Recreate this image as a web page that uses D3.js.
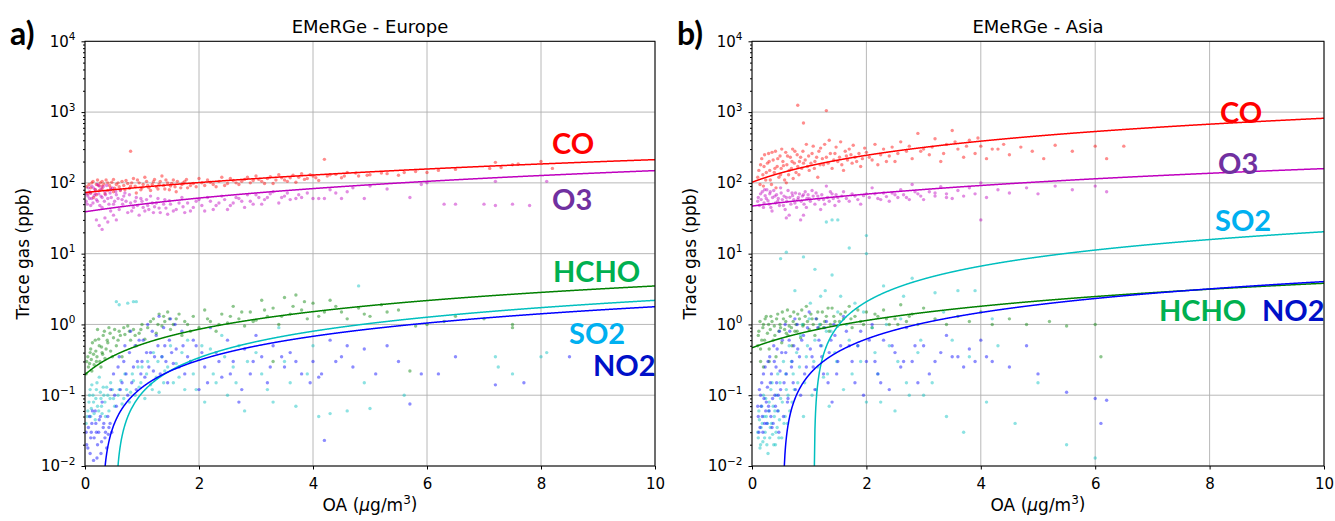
<!DOCTYPE html>
<html>
<head>
<meta charset="utf-8">
<script src="https://cdn.jsdelivr.net/npm/d3@7"></script>
<style>
  body { margin: 0; background: #fff; }
  svg text { font-family: "DejaVu Sans", sans-serif; }
</style>
</head>
<body>
<svg id="chart" width="1335" height="521"></svg>
<script>
// ---- tick labels -------------------------------------------------------
const OA_TICKS  = [0, 2, 4, 6, 8, 10];
const GAS_TICKS = [1e-2, 1e-1, 1, 1e1, 1e2, 1e3, 1e4];
const GAS_EXP   = ["\u22122", "\u22121", "0", "1", "2", "3", "4"];

const SPECIES = ["CO", "O3", "HCHO", "SO2", "NO2"];

// ---- linear fits (intercept, slope), ppb vs OA -------------------------
const fitEurope = [[73, 14], [39, 11], [0.195, 0.33], [-0.124, 0.2314], [-0.0548, 0.1835]];
const fitAsia   = [[102, 71.6], [47, 11.2], [0.467, 0.335], [-2.485, 2.288], [-0.2307, 0.426]];

// ---- scatter, EMeRGe Europe [OA, gas] ----------------------------------
const euCO = [[0.05,70],[0.1,85],[0.12,100],[0.15,62],[0.2,95],[0.22,110],[0.25,78],[0.3,90],[0.3,105],[0.35,70],[0.4,100],[0.45,85],[0.5,112],[0.5,75],[0.55,95],[0.6,88],[0.65,105],[0.7,80],[0.75,98],[0.8,280],[0.8,90],[0.85,115],[0.9,72],[0.95,100],[1.0,85],[1.05,120],[1.1,92],[1.15,78],[1.2,104],[1.25,88],[1.3,96],[1.35,125],[1.4,82],[1.45,100],[1.5,90],[1.55,110],[1.6,75],[1.7,95],[1.75,105],[1.8,85],[1.9,98],[2.0,115],[2.1,92],[2.2,102],[2.3,88],[2.4,120],[2.5,98],[2.6,108],[2.7,95],[2.8,112],[2.9,100],[3.0,125],[3.1,105],[3.2,115],[3.3,98],[3.4,130],[3.5,110],[3.6,118],[3.7,102],[3.8,135],[3.9,115],[4.0,125],[4.1,108],[4.2,215],[4.3,130],[4.5,118],[4.6,140],[4.8,125],[5.0,130],[5.2,138],[5.5,128],[5.8,145],[6.0,140],[6.2,150],[6.5,155],[7.1,160],[7.2,195],[7.3,165],[7.5,180],[7.6,185],[8.0,200],[8.2,160],
  [0.03,88],[0.07,95],[0.1,72],[0.14,105],[0.18,80],[0.2,68],[0.24,92],[0.27,100],[0.3,82],[0.33,96],[0.37,110],[0.4,78],[0.43,92],[0.47,102],[0.52,84],[0.58,100],[0.62,78],[0.68,92],[0.72,108],[0.78,84],[0.82,100],[0.88,90],[0.92,110],[0.98,80],[1.02,95],[1.08,105],[1.12,85],[1.18,95],[1.22,112],[1.28,82],[1.32,105],[1.38,92],[1.42,110],[1.48,80],[1.52,98],[1.58,88],[1.62,105],[1.68,85],[1.72,100],[1.78,112],[1.85,92],[1.95,88],[2.05,100],[2.15,110],[2.25,95],[2.35,105],[2.45,92],[2.55,115],[2.65,100],[2.75,105],[2.85,120],[2.95,108],[3.05,112],[3.15,98],[3.25,122],[3.35,110],[3.45,118],[3.55,105],[3.65,128],[3.75,120],[3.85,112],[3.95,130],[4.05,118],[4.25,125],[4.4,132],[4.55,125],[4.75,138],[4.95,128],[5.3,135],[5.6,140]];
const euO3 = [[0.02,55],[0.05,65],[0.08,75],[0.1,48],[0.12,60],[0.15,85],[0.18,70],[0.2,30],[0.22,55],[0.25,90],[0.28,65],[0.3,22],[0.3,45],[0.35,75],[0.4,60],[0.4,28],[0.45,80],[0.5,50],[0.5,35],[0.55,68],[0.6,42],[0.65,58],[0.7,72],[0.75,38],[0.8,52],[0.85,45],[0.9,62],[0.95,35],[1.0,55],[1.05,40],[1.1,48],[1.15,65],[1.2,38],[1.25,52],[1.3,44],[1.4,58],[1.45,36],[1.5,50],[1.6,42],[1.7,62],[1.75,38],[1.8,52],[1.9,45],[2.0,58],[2.1,40],[2.2,55],[2.3,48],[2.4,65],[2.5,42],[2.6,52],[2.7,60],[2.8,45],[2.9,55],[3.0,68],[3.1,50],[3.2,62],[3.3,75],[3.4,52],[3.5,65],[3.6,58],[3.8,62],[3.9,72],[4.0,60],[4.1,60],[4.3,80],[4.5,60],[4.7,85],[4.9,60],[5.0,90],[5.3,82],[5.7,62],[5.9,95],[6.0,100],[6.3,50],[6.5,50],[7.0,50],[7.2,48],[7.5,50],[7.8,48],[7.2,105],[8.1,105],
  [0.02,70],[0.04,50],[0.06,85],[0.08,60],[0.1,72],[0.12,90],[0.14,52],[0.16,66],[0.18,80],[0.2,58],[0.22,95],[0.24,70],[0.26,48],[0.28,82],[0.3,62],[0.32,88],[0.34,55],[0.36,68],[0.38,92],[0.42,50],[0.44,72],[0.46,62],[0.48,85],[0.52,55],[0.54,75],[0.58,60],[0.62,80],[0.66,50],[0.68,65],[0.72,55],[0.78,68],[0.82,40],[0.88,55],[0.92,48],[0.98,60],[1.02,45],[1.08,58],[1.12,42],[1.18,52],[1.22,46],[1.28,60],[1.32,38],[1.38,50],[1.42,44],[1.48,56],[1.55,40],[1.65,52],[1.72,46],[1.85,40],[1.95,55],[2.05,48],[2.15,62],[2.25,42],[2.35,52],[2.45,58],[2.55,48],[2.65,62],[2.75,55],[2.85,68],[2.95,50],[3.05,62],[3.15,58],[3.25,70],[3.45,62],[3.55,72],[3.7,60],[3.75,68],[4.2,60],[4.4,72],[4.6,75],[0.25,25],[0.35,32],[0.55,30],[0.45,40]];
const euHCHO = [[0.02,0.2],[0.05,0.35],[0.08,0.28],[0.1,0.45],[0.12,0.22],[0.15,0.38],[0.18,0.6],[0.2,0.3],[0.22,0.85],[0.25,0.5],[0.28,0.25],[0.3,0.4],[0.32,0.7],[0.35,0.33],[0.4,0.55],[0.42,0.9],[0.45,0.42],[0.5,0.65],[0.55,0.5],[0.6,0.8],[0.65,0.35],[0.7,0.72],[0.75,0.95],[0.8,0.6],[0.85,0.85],[0.9,0.5],[0.95,0.75],[1.0,1.0],[1.05,0.62],[1.1,0.9],[1.2,1.2],[1.25,0.75],[1.3,1.4],[1.35,0.95],[1.4,1.1],[1.45,1.5],[1.5,0.85],[1.6,1.2],[1.7,0.7],[1.8,1.0],[1.9,1.3],[2.0,0.9],[2.1,1.6],[2.2,1.1],[2.3,0.8],[2.4,1.4],[2.5,1.05],[2.6,1.8],[2.7,1.2],[2.8,0.95],[2.9,1.5],[3.0,1.15],[3.1,2.2],[3.2,1.3],[3.3,1.7],[3.4,1.0],[3.5,2.4],[3.6,1.4],[3.7,2.6],[3.8,1.6],[3.9,1.2],[4.0,2.0],[4.2,1.5],[4.4,1.8],[4.6,1.2],[4.8,1.7],[5.0,1.3],[5.2,1.9],[5.5,1.6],[5.8,0.95],[6.0,1.0],[6.3,1.1],[7.0,1.2],[7.5,0.9],[3.3,0.3],[5.7,0.22],
  [0.03,0.3],[0.06,0.25],[0.09,0.4],[0.11,0.32],[0.13,0.55],[0.16,0.27],[0.19,0.42],[0.21,0.35],[0.24,0.62],[0.26,0.3],[0.29,0.48],[0.31,0.38],[0.34,0.8],[0.37,0.45],[0.39,0.6],[0.44,0.75],[0.48,0.35],[0.52,0.85],[0.58,0.6],[0.62,0.7],[0.68,0.9],[0.78,0.8],[0.88,0.7],[0.98,0.85],[1.15,1.1],[1.28,1.0],[1.38,1.3],[1.48,1.2],[1.55,1.0],[1.65,1.4],[1.75,1.1],[1.85,0.8],[2.15,1.2],[2.35,1.0],[2.55,1.3],[2.75,1.5],[2.95,1.1],[3.15,1.6],[3.45,1.3],[3.65,1.8],[3.85,2.1],[4.1,1.3],[4.3,2.2],[4.5,1.5],[4.9,1.4],[5.3,1.5],[6.5,1.3],[7.5,1.0]];
const euSO2 = [[0.02,0.04],[0.05,0.06],[0.08,0.1],[0.1,0.05],[0.12,0.14],[0.15,0.08],[0.18,0.045],[0.2,0.12],[0.22,0.07],[0.25,0.18],[0.28,0.09],[0.3,0.055],[0.32,0.13],[0.35,0.08],[0.4,0.1],[0.42,0.06],[0.45,0.15],[0.5,0.09],[0.55,2.1],[0.6,0.12],[0.65,0.075],[0.7,0.2],[0.75,2.0],[0.8,0.11],[0.85,0.16],[0.9,2.1],[0.95,0.13],[1.0,0.25],[1.05,0.09],[1.1,0.3],[1.15,0.14],[1.2,0.4],[1.25,0.18],[1.3,0.11],[1.35,0.35],[1.4,0.22],[1.5,0.5],[1.55,0.15],[1.6,0.28],[1.7,0.4],[1.75,0.12],[1.8,0.6],[1.9,0.2],[2.0,0.32],[2.1,0.08],[2.2,0.45],[2.3,0.15],[2.4,0.7],[2.5,0.1],[2.6,0.25],[2.7,0.5],[2.8,0.06],[3.0,0.4],[3.2,0.12],[3.4,0.9],[3.5,0.3],[3.7,0.07],[3.9,0.2],[4.0,0.5],[4.1,0.05],[4.3,0.055],[4.6,0.06],[4.8,3.5],[4.9,0.15],[5.0,0.065],[5.6,0.1],[7.2,0.35],[7.25,0.25],[7.5,0.2],[8.0,0.35],[8.1,0.4],
  [0.04,0.05],[0.07,0.08],[0.09,0.12],[0.11,0.065],[0.14,0.1],[0.16,0.055],[0.19,0.09],[0.21,0.15],[0.24,0.06],[0.27,0.11],[0.29,0.07],[0.33,0.1],[0.36,0.05],[0.38,0.13],[0.44,0.09],[0.48,0.12],[0.52,0.07],[0.58,0.1],[0.63,0.16],[0.68,0.09],[0.73,0.12],[0.78,0.08],[0.83,0.2],[0.88,0.1],[0.93,0.25],[0.98,0.15],[1.08,0.2],[1.18,0.12],[1.28,0.3],[1.38,0.15],[1.45,0.25],[1.65,0.18],[1.85,0.3],[1.95,0.12],[2.05,0.5],[2.25,0.2],[2.45,0.35],[2.65,0.15],[2.85,0.3],[3.1,0.2],[3.3,0.08],[3.6,0.15],[0.85,2.1],[0.6,1.9]];
const euNO2 = [[0.02,0.03],[0.05,0.018],[0.08,0.05],[0.1,0.025],[0.12,0.04],[0.15,0.012],[0.18,0.06],[0.2,0.03],[0.22,0.02],[0.25,0.045],[0.28,0.015],[0.3,0.08],[0.32,0.035],[0.35,0.025],[0.4,0.05],[0.42,0.035],[0.45,0.12],[0.5,0.2],[0.55,0.07],[0.6,0.35],[0.65,0.15],[0.7,0.5],[0.75,0.1],[0.8,0.8],[0.85,0.25],[0.9,0.12],[0.95,0.6],[1.0,0.3],[1.05,0.18],[1.1,1.0],[1.15,0.4],[1.2,0.22],[1.25,0.7],[1.3,1.3],[1.35,0.35],[1.4,0.5],[1.45,0.15],[1.5,1.2],[1.55,0.28],[1.6,0.45],[1.7,0.8],[1.75,0.2],[1.8,0.35],[1.9,0.6],[2.0,0.12],[2.1,0.25],[2.2,0.9],[2.3,0.4],[2.4,0.18],[2.5,0.6],[2.6,0.3],[2.7,0.08],[2.8,0.45],[2.9,0.2],[3.0,0.7],[3.1,0.35],[3.2,0.15],[3.3,0.5],[3.5,0.25],[3.6,0.4],[3.8,0.2],[4.0,0.3],[4.1,0.18],[4.2,0.023],[4.3,0.6],[4.5,0.35],[4.7,0.25],[4.9,0.45],[5.1,0.2],[5.3,0.5],[5.5,0.3],[5.7,0.075],[5.9,0.2],[6.2,0.2],[6.5,0.35],[7.2,0.14],[7.7,0.15],[8.5,0.35],
  [0.03,0.02],[0.06,0.035],[0.09,0.015],[0.11,0.03],[0.13,0.06],[0.16,0.025],[0.19,0.04],[0.21,0.013],[0.24,0.03],[0.27,0.05],[0.29,0.022],[0.33,0.04],[0.36,0.03],[0.38,0.018],[0.41,0.028],[0.44,0.04],[0.47,0.03],[0.52,0.1],[0.58,0.25],[0.62,0.12],[0.68,0.3],[0.72,0.2],[0.78,0.4],[0.82,0.15],[0.88,0.5],[0.92,0.3],[0.98,0.2],[1.02,0.6],[1.08,0.4],[1.12,0.25],[1.18,0.8],[1.22,0.35],[1.28,0.5],[1.32,0.2],[1.38,0.9],[1.42,0.3],[1.48,0.6],[1.52,0.4],[1.58,1.0],[1.65,0.25],[1.72,0.5],[1.85,0.3],[1.95,0.5],[2.05,0.4],[2.15,0.15],[2.35,0.3],[2.55,0.2],[2.75,0.12],[2.95,0.3],[3.25,0.25],[3.45,0.35],[3.7,0.3],[3.95,0.15],[4.15,0.2],[4.4,0.3],[4.6,0.5]];

// ---- scatter, EMeRGe Asia [OA, gas] ------------------------------------
const asCO = [[0.1,120],[0.15,180],[0.2,90],[0.22,250],[0.25,140],[0.3,200],[0.32,110],[0.35,270],[0.4,160],[0.42,85],[0.45,220],[0.5,130],[0.52,300],[0.55,175],[0.6,100],[0.62,240],[0.65,150],[0.7,200],[0.72,115],[0.75,280],[0.8,170],[0.8,1250],[0.82,130],[0.85,230],[0.9,700],[0.9,190],[0.95,350],[1.0,150],[1.05,260],[1.1,200],[1.15,120],[1.2,310],[1.25,180],[1.3,1050],[1.3,230],[1.35,400],[1.4,160],[1.45,260],[1.5,200],[1.55,380],[1.6,150],[1.65,240],[1.7,300],[1.75,190],[1.8,230],[1.9,170],[2.0,270],[2.1,210],[2.15,350],[2.2,180],[2.3,300],[2.4,240],[2.5,200],[2.6,380],[2.7,280],[2.8,220],[2.9,500],[3.0,300],[3.1,250],[3.2,420],[3.3,200],[3.4,350],[3.5,550],[3.6,300],[3.7,230],[3.8,400],[3.9,260],[4.0,330],[4.1,220],[4.3,300],[4.5,250],[4.7,320],[4.9,280],[5.1,220],[5.3,340],[5.6,280],[6.0,330],[6.2,220],[6.5,330],
  [0.12,150],[0.14,95],[0.17,220],[0.19,130],[0.21,170],[0.24,110],[0.27,190],[0.29,260],[0.31,150],[0.34,95],[0.37,210],[0.39,140],[0.41,280],[0.44,170],[0.47,120],[0.49,240],[0.51,160],[0.54,200],[0.57,110],[0.59,270],[0.61,180],[0.64,130],[0.67,230],[0.69,160],[0.71,300],[0.74,190],[0.77,140],[0.79,250],[0.83,200],[0.87,160],[0.89,280],[0.93,210],[0.97,170],[0.99,240],[1.03,190],[1.07,330],[1.09,160],[1.13,230],[1.17,280],[1.19,180],[1.23,220],[1.27,350],[1.33,190],[1.37,260],[1.43,210],[1.47,320],[1.53,230],[1.57,180],[1.63,280],[1.67,210],[1.73,250],[1.77,340],[1.83,200],[1.87,260],[1.93,220],[1.97,310],[2.05,230],[2.25,250],[2.35,200],[2.45,320],[2.55,260],[2.75,330],[2.95,280],[3.15,320],[3.35,260],[3.55,380],[3.75,330],[3.95,430],[4.2,300],[4.4,350]];
const asO3 = [[0.1,55],[0.15,70],[0.2,45],[0.22,80],[0.25,60],[0.3,50],[0.32,75],[0.35,40],[0.4,65],[0.45,55],[0.5,85],[0.55,48],[0.6,62],[0.65,35],[0.7,72],[0.75,52],[0.8,58],[0.85,30],[0.9,68],[0.95,45],[1.0,60],[1.05,78],[1.1,50],[1.15,65],[1.2,42],[1.25,58],[1.3,90],[1.35,55],[1.4,70],[1.45,48],[1.5,62],[1.6,75],[1.7,55],[1.8,65],[1.9,50],[2.0,70],[2.1,85],[2.2,60],[2.3,72],[2.4,55],[2.5,68],[2.6,80],[2.7,62],[2.8,95],[2.9,70],[3.0,58],[3.1,75],[3.2,65],[3.3,88],[3.4,70],[3.5,60],[3.6,78],[3.7,65],[3.8,85],[3.9,70],[4.0,100],[4.0,30],[4.1,62],[4.3,80],[4.5,72],[4.8,85],[5.0,70],[5.3,90],[5.6,80],[6.0,90],[6.2,75],
  [0.11,62],[0.13,48],[0.16,58],[0.18,75],[0.21,52],[0.23,66],[0.26,80],[0.28,56],[0.31,70],[0.33,45],[0.36,62],[0.38,78],[0.41,52],[0.43,68],[0.46,60],[0.48,48],[0.51,72],[0.53,58],[0.56,65],[0.58,42],[0.61,55],[0.63,78],[0.66,62],[0.68,50],[0.71,66],[0.73,58],[0.76,72],[0.78,45],[0.81,62],[0.83,70],[0.86,55],[0.88,65],[0.91,50],[0.93,75],[0.96,60],[0.98,68],[1.02,55],[1.07,65],[1.12,72],[1.17,58],[1.22,68],[1.27,50],[1.32,62],[1.37,75],[1.42,60],[1.47,68],[1.52,55],[1.57,65],[1.65,60],[1.75,70],[1.85,58],[1.95,66],[2.05,62],[2.15,70],[2.25,58],[2.35,64],[2.45,72],[2.55,62],[2.65,68],[2.75,58],[2.85,75],[2.95,65],[3.2,72],[3.4,62],[0.6,32],[0.9,35]];
const asHCHO = [[0.1,0.5],[0.12,0.8],[0.15,0.3],[0.2,1.0],[0.22,0.6],[0.25,1.3],[0.3,0.45],[0.32,0.85],[0.35,1.1],[0.4,0.7],[0.42,0.35],[0.45,1.4],[0.5,0.9],[0.52,0.55],[0.55,1.2],[0.6,0.75],[0.62,1.6],[0.65,0.95],[0.7,0.5],[0.72,1.1],[0.75,0.8],[0.8,1.4],[0.85,0.65],[0.9,1.0],[0.95,1.8],[1.0,0.85],[1.05,1.2],[1.1,0.7],[1.15,1.5],[1.2,1.0],[1.25,0.9],[1.3,1.3],[1.35,0.8],[1.4,1.7],[1.45,1.1],[1.5,0.95],[1.55,1.4],[1.6,1.2],[1.7,1.8],[1.75,0.9],[1.8,1.3],[1.9,1.1],[2.0,1.5],[2.1,0.9],[2.2,1.3],[2.3,1.6],[2.4,1.0],[2.5,1.2],[2.6,1.9],[2.7,1.1],[2.8,1.4],[2.9,1.0],[3.0,1.7],[3.2,1.2],[3.4,1.0],[3.6,1.3],[3.8,1.1],[4.0,1.5],[4.2,1.0],[4.5,1.2],[4.8,1.0],[5.2,1.1],[5.5,0.95],[6.0,1.0],[6.1,0.35],
  [0.11,0.7],[0.14,1.1],[0.17,0.6],[0.19,0.9],[0.23,1.2],[0.27,0.75],[0.29,1.0],[0.33,1.3],[0.37,0.6],[0.39,0.95],[0.43,1.2],[0.47,0.8],[0.49,1.0],[0.53,1.5],[0.57,0.85],[0.59,1.1],[0.63,0.7],[0.67,1.3],[0.69,0.9],[0.73,1.5],[0.77,1.0],[0.79,0.8],[0.83,1.2],[0.87,1.6],[0.89,0.95],[0.93,1.3],[0.97,1.1],[1.03,1.4],[1.07,1.0],[1.13,1.2],[1.17,0.9],[1.23,1.5],[1.27,1.1],[1.33,1.7],[1.37,1.0],[1.43,1.3],[1.53,1.1],[1.63,1.5],[1.73,1.2],[1.85,1.6],[1.95,1.0],[2.15,1.4],[2.35,1.2],[2.55,1.0],[2.75,1.3],[0.2,0.25],[0.3,0.3],[0.15,0.45]];
const asSO2 = [[0.1,0.03],[0.12,0.06],[0.15,0.02],[0.18,0.04],[0.2,0.1],[0.22,0.025],[0.25,0.05],[0.28,0.015],[0.3,0.08],[0.32,0.035],[0.35,0.15],[0.38,0.02],[0.4,0.06],[0.42,0.03],[0.45,0.2],[0.48,0.045],[0.5,0.09],[0.5,8.5],[0.52,0.025],[0.55,0.3],[0.58,0.05],[0.6,0.12],[0.6,10.5],[0.62,0.04],[0.65,0.5],[0.7,0.08],[0.72,0.2],[0.75,3.0],[0.8,0.15],[0.85,0.7],[0.9,0.05],[0.9,9],[0.95,0.35],[1.0,1.2],[1.05,0.1],[1.1,0.6],[1.1,6],[1.15,0.25],[1.2,2.5],[1.25,0.18],[1.3,0.8],[1.3,28],[1.35,0.07],[1.4,5.0],[1.4,30],[1.45,0.4],[1.5,1.5],[1.5,30],[1.6,0.12],[1.7,0.6],[1.7,12],[1.8,2.0],[1.9,0.3],[2.0,0.08],[2.0,10],[2.0,18],[2.1,0.9],[2.2,0.2],[2.3,3.5],[2.4,0.5],[2.5,0.06],[2.6,1.2],[2.7,0.15],[2.8,4.5],[2.9,0.4],[3.0,0.1],[3.2,2.8],[3.4,0.05],[3.5,0.6],[3.7,0.03],[3.9,3.0],[4.1,0.08],[4.3,0.5],[4.6,0.04],[5.0,0.15],[5.5,0.02],[6.0,0.013],
  [0.11,0.025],[0.13,0.045],[0.14,0.018],[0.16,0.035],[0.17,0.07],[0.19,0.022],[0.21,0.05],[0.23,0.03],[0.24,0.09],[0.26,0.02],[0.27,0.04],[0.29,0.06],[0.31,0.025],[0.33,0.12],[0.34,0.04],[0.36,0.028],[0.37,0.07],[0.39,0.05],[0.41,0.02],[0.43,0.1],[0.44,0.035],[0.46,0.06],[0.47,0.025],[0.49,0.15],[0.53,0.08],[0.56,0.04],[0.59,0.2],[0.63,0.1],[0.66,0.06],[0.69,0.3],[0.74,0.12],[0.78,0.4],[0.83,0.25],[0.88,1.0],[0.92,0.15],[0.97,0.5],[1.02,2.0],[1.08,0.3],[1.12,0.12],[1.18,1.0],[1.22,0.5],[1.28,3.0],[1.32,0.2],[1.38,0.8],[1.48,0.3],[1.55,2.5],[1.65,1.0],[1.75,0.2],[1.85,0.5],[1.95,1.5],[2.15,0.4],[2.25,0.08],[2.35,1.0],[2.55,0.3],[2.65,2.5],[2.75,0.1],[2.95,0.6],[3.15,0.15],[3.35,1.5],[3.6,3.0],[3.8,0.35],[4.2,1.2]];
const asNO2 = [[0.1,0.07],[0.12,0.03],[0.15,0.1],[0.18,0.05],[0.2,0.2],[0.22,0.04],[0.25,0.08],[0.28,0.3],[0.3,0.06],[0.32,0.15],[0.35,0.035],[0.38,0.5],[0.4,0.1],[0.42,0.25],[0.45,0.06],[0.48,0.8],[0.5,0.12],[0.52,0.4],[0.55,0.05],[0.58,1.0],[0.6,0.2],[0.62,0.08],[0.65,0.6],[0.7,0.3],[0.72,0.15],[0.75,1.2],[0.8,0.45],[0.85,0.1],[0.9,0.7],[0.95,0.25],[1.0,1.5],[1.05,0.35],[1.1,0.12],[1.15,0.9],[1.2,0.5],[1.25,0.2],[1.3,1.1],[1.35,0.4],[1.4,0.08],[1.45,0.7],[1.5,0.3],[1.6,1.3],[1.7,0.5],[1.8,0.15],[1.9,0.8],[2.0,0.3],[2.1,1.0],[2.2,0.2],[2.3,0.6],[2.4,0.12],[2.5,0.4],[2.6,0.25],[2.7,0.9],[2.8,0.3],[2.9,0.15],[3.0,0.5],[3.2,0.3],[3.4,0.7],[3.5,0.35],[3.7,0.25],[3.9,0.3],[4.0,0.6],[4.2,0.3],[4.5,0.25],[4.8,0.5],[5.0,0.2],[5.5,0.11],[6.0,0.09],[6.1,0.04],[6.2,0.085],
  [0.11,0.05],[0.13,0.12],[0.14,0.035],[0.16,0.07],[0.17,0.15],[0.19,0.03],[0.21,0.09],[0.23,0.25],[0.24,0.06],[0.26,0.04],[0.27,0.13],[0.29,0.07],[0.31,0.35],[0.33,0.05],[0.34,0.2],[0.36,0.09],[0.37,0.04],[0.39,0.3],[0.41,0.07],[0.43,0.15],[0.44,0.45],[0.46,0.1],[0.47,0.03],[0.49,0.22],[0.53,0.6],[0.56,0.15],[0.59,0.4],[0.63,0.09],[0.66,0.8],[0.69,0.25],[0.73,0.5],[0.76,0.12],[0.79,1.0],[0.83,0.35],[0.87,0.6],[0.92,0.2],[0.97,0.9],[1.02,0.45],[1.07,0.25],[1.12,1.2],[1.17,0.6],[1.22,0.35],[1.27,0.9],[1.33,0.15],[1.38,0.6],[1.43,1.0],[1.48,0.2],[1.55,0.5],[1.65,0.8],[1.75,0.3],[1.85,0.5],[1.95,0.1],[2.05,0.6],[2.15,0.3],[2.25,0.15],[2.45,0.5],[2.65,0.3],[2.85,0.5],[3.1,0.2],[3.3,0.4],[3.6,0.35],[3.8,0.45],[4.1,0.35]];

// ---- styling ----------------------------------------------------------
const DOT_COLOR  = { CO: "#ff0000", O3: "#bf00bf", HCHO: "#008000", SO2: "#00bfbf", NO2: "#0000ff" };
const TEXT_COLOR = { CO: "#ff0000", O3: "#7030a0", HCHO: "#00b050", SO2: "#00b0f0", NO2: "#0010c8" };

const TOP = 41.3, BOTTOM = 466;

const panels = [
  {
    tag: "a)", title: "EMeRGe - Europe", left: 85, right: 655, yLabelX: 29,
    points: [euCO, euO3, euHCHO, euSO2, euNO2], fits: fitEurope,
    labels: { CO: [552, 154], O3: [552, 210], HCHO: [553, 282], SO2: [569, 344], NO2: [593, 376] },
  },
  {
    tag: "b)", title: "EMeRGe - Asia", left: 752, right: 1324, yLabelX: 696,
    points: [asCO, asO3, asHCHO, asSO2, asNO2], fits: fitAsia,
    labels: { CO: [1220, 123], O3: [1218, 174], SO2: [1215, 231], HCHO: [1159, 321], NO2: [1262, 321] },
  },
];

const svg = d3.select("#chart");
svg.append("rect").attr("width", 1335).attr("height", 521).attr("fill", "#fff");

function drawPanel(p, idx) {
  const x = d3.scaleLinear().domain([0, 10]).range([p.left, p.right]);
  const y = d3.scaleLog().domain([1e-2, 1e4]).range([BOTTOM, TOP]);
  const g = svg.append("g");

  // grid
  g.selectAll(".vg").data(OA_TICKS).join("line")
    .attr("x1", d => x(d)).attr("x2", d => x(d))
    .attr("y1", TOP).attr("y2", BOTTOM)
    .attr("stroke", "#b0b0b0").attr("stroke-width", 0.9);
  g.selectAll(".hg").data(GAS_TICKS).join("line")
    .attr("x1", p.left).attr("x2", p.right)
    .attr("y1", d => y(d)).attr("y2", d => y(d))
    .attr("stroke", "#b0b0b0").attr("stroke-width", 0.9);

  const clipId = "clip" + idx;
  g.append("clipPath").attr("id", clipId).append("rect")
    .attr("x", p.left).attr("y", TOP)
    .attr("width", p.right - p.left).attr("height", BOTTOM - TOP);
  const plot = g.append("g").attr("clip-path", `url(#${clipId})`);

  // scatter
  SPECIES.forEach((sp, i) => {
    plot.append("g").selectAll("circle").data(p.points[i]).join("circle")
      .attr("cx", d => x(d[0])).attr("cy", d => y(d[1]))
      .attr("r", 1.7)
      .attr("fill", DOT_COLOR[sp]).attr("fill-opacity", 0.45);
  });

  // fit lines: gas = a + b*OA, drawn from where it enters the axis range
  const line = d3.line().x(d => x(d[0])).y(d => y(d[1]));
  SPECIES.forEach((sp, i) => {
    const [a, b] = p.fits[i];
    const x0 = Math.max(0, (1e-2 - a) / b);
    const xs = [x0].concat(d3.range(Math.ceil(x0 * 200) / 200 + 0.005, 10.0001, 0.005));
    const pts = xs.map(v => [v, Math.max(a + b * v, 1e-2)]);
    plot.append("path").datum(pts)
      .attr("d", line).attr("fill", "none")
      .attr("stroke", DOT_COLOR[sp]).attr("stroke-width", 1.5);
  });

  // frame
  g.append("rect")
    .attr("x", p.left).attr("y", TOP)
    .attr("width", p.right - p.left).attr("height", BOTTOM - TOP)
    .attr("fill", "none").attr("stroke", "#000").attr("stroke-width", 1);

  // x axis
  const xa = g.append("g").attr("transform", `translate(0,${BOTTOM})`)
    .call(d3.axisBottom(x).tickValues(OA_TICKS).tickSize(3.5).tickSizeOuter(0).tickPadding(8.8));
  xa.select(".domain").remove();
  xa.selectAll("text").attr("font-size", 15).attr("fill", "#000")
    .style("font-family", '"DejaVu Sans", sans-serif');

  // y axis, major + minor
  const minor = [];
  for (let k = -2; k < 4; k++) for (let m = 2; m <= 9; m++) minor.push(m * Math.pow(10, k));
  const ym = g.append("g").attr("transform", `translate(${p.left},0)`)
    .call(d3.axisLeft(y).tickValues(minor).tickSize(2).tickFormat(""));
  ym.select(".domain").remove();
  const ya = g.append("g").attr("transform", `translate(${p.left},0)`)
    .call(d3.axisLeft(y).tickValues(GAS_TICKS).tickSize(3.5).tickSizeOuter(0).tickPadding(6).tickFormat(() => ""));
  ya.select(".domain").remove();
  ya.selectAll("text").each(function(d, i) {
    const t = d3.select(this).attr("font-size", 15).attr("fill", "#000")
      .style("font-family", '"DejaVu Sans", sans-serif');
    t.append("tspan").text("10");
    t.append("tspan").attr("font-size", 10.5).attr("dy", "-0.62em").text(GAS_EXP[i]);
  });

  // titles
  g.append("text").attr("x", (p.left + p.right) / 2).attr("y", 32.5)
    .attr("text-anchor", "middle").attr("font-size", 18).text(p.title);

  const xl = g.append("text").attr("x", (p.left + p.right) / 2).attr("y", 511)
    .attr("text-anchor", "middle").attr("font-size", 17);
  xl.append("tspan").text("OA (");
  xl.append("tspan").attr("font-style", "italic").text("\u03bc");
  xl.append("tspan").text("g/m");
  xl.append("tspan").attr("font-size", 12).attr("dy", "-0.6em").text("3");
  xl.append("tspan").attr("dy", "0.36em").text(")");

  g.append("text")
    .attr("transform", `translate(${p.yLabelX},${(TOP + BOTTOM) / 2}) rotate(-90)`)
    .attr("text-anchor", "middle").attr("font-size", 17).text("Trace gas (ppb)");

  g.append("text").attr("x", p.left - 75).attr("y", 45)
    .style("font-family", "Lato, sans-serif").attr("font-weight", 700)
    .attr("font-size", 32).text(p.tag);

  // species labels
  Object.entries(p.labels).forEach(([sp, [lx, ly]]) => {
    g.append("text").attr("x", lx).attr("y", ly)
      .style("font-family", "Lato, sans-serif").attr("font-weight", 700)
      .attr("font-size", 29).attr("fill", TEXT_COLOR[sp]).text(sp);
  });
}

panels.forEach(drawPanel);
</script>
</body>
</html>
